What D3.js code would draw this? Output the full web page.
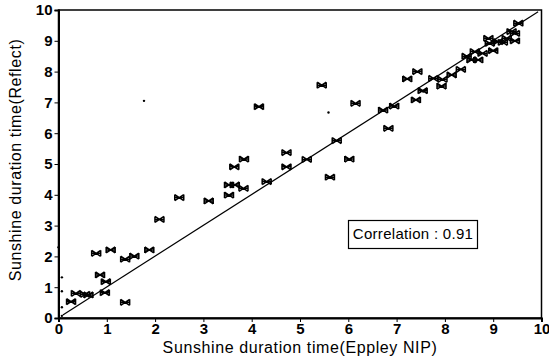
<!DOCTYPE html>
<html>
<head>
<meta charset="utf-8">
<script src="https://cdn.jsdelivr.net/npm/d3@7"></script>
<style>
  body { margin: 0; background: #fff; }
  text { font-family: "Liberation Sans", Arial, sans-serif; }
</style>
</head>
<body>
<svg id="chart" width="549" height="362"></svg>
<script>
// sunshine hours, Eppley NIP (x) vs reflect sensor (y)
var nipHours = [0.36, 0.55, 0.62, 0.26, 0.78, 1.08, 1.38, 1.57, 1.88, 2.09, 2.50, 3.11, 3.53, 3.53, 3.65,
  3.83, 4.31, 0.86, 0.98, 0.96, 1.38, 4.15, 3.84, 3.64, 4.72, 4.72, 5.45, 6.15, 6.72, 6.95, 6.83, 5.76,
  5.14, 6.02, 5.62, 7.22, 7.43, 7.40, 7.54, 7.76, 7.93, 7.95, 8.14, 8.33, 8.45, 8.55, 8.62, 8.78, 8.69,
  9.00, 8.90, 8.93, 9.10, 9.28, 9.38, 9.45, 9.52, 9.45, 9.20];
var reflectHours = [0.80, 0.77, 0.75, 0.53, 2.10, 2.21, 1.91, 2.01, 2.21, 3.20, 3.91, 3.80, 3.99, 4.32, 4.32,
  4.21, 4.43, 1.40, 1.18, 0.82, 0.51, 6.86, 5.16, 4.91, 5.37, 4.91, 7.56, 6.97, 6.75, 6.88, 6.16, 5.76,
  5.15, 5.16, 4.57, 7.76, 8.00, 7.08, 7.38, 7.78, 7.53, 7.75, 7.89, 8.07, 8.50, 8.38, 8.65, 8.59, 8.38,
  8.68, 9.08, 8.92, 8.97, 9.08, 9.30, 9.24, 9.57, 9.00, 8.95];

// faint single readings
var dotNip = [0.07, 0.07, 0.07, 0.07, 0.0, 5.59, 1.77, 7.55];
var dotReflect = [1.32, 0.87, 0.35, 0.07, 2.3, 6.67, 7.05, 7.35];

var tickValues = [0, 1, 2, 3, 4, 5, 6, 7, 8, 9, 10];
var correlation = 0.91;

var svg = d3.select("#chart");
var plotLeft = 58.5, plotRight = 541.5, plotTop = 10, plotBottom = 318;

var x = d3.scaleLinear().domain([0, 10]).range([plotLeft, plotRight]);
var y = d3.scaleLinear().domain([0, 10]).range([plotBottom, plotTop]);

// frame
svg.append("rect")
  .attr("x", plotLeft).attr("y", plotTop)
  .attr("width", plotRight - plotLeft).attr("height", plotBottom - plotTop)
  .attr("fill", "none").attr("stroke", "#000").attr("stroke-width", 1.5);

var xAxis = svg.append("g")
  .attr("transform", "translate(0," + plotBottom + ")")
  .call(d3.axisBottom(x).tickValues(tickValues).tickFormat(d3.format("d")).tickSize(4).tickPadding(1));
var yAxis = svg.append("g")
  .attr("transform", "translate(" + plotLeft + ",0)")
  .call(d3.axisLeft(y).tickValues(tickValues).tickFormat(d3.format("d")).tickSize(4).tickPadding(2));

[xAxis, yAxis].forEach(function(a) {
  a.select(".domain").attr("stroke-width", 2);
  a.selectAll("text").attr("font-size", 15).attr("font-weight", "bold").attr("fill", "#000")
    .attr("font-family", "Liberation Sans, Arial, sans-serif");
});

// 1:1 line
svg.append("line")
  .attr("x1", x(0.09)).attr("y1", y(0.1))
  .attr("x2", x(9.93)).attr("y2", y(9.94))
  .attr("stroke", "#000").attr("stroke-width", 1.2);

// asterisk-ish markers
function marker(px, py) {
  var w = 4.5, h = 3;
  return "M" + (px - w) + "," + (py - h) + "L" + (px + w) + "," + (py + h) +
    "M" + (px - w) + "," + (py + h) + "L" + (px + w) + "," + (py - h) +
    "M" + (px - w) + "," + py + "L" + (px + w) + "," + py +
    "M" + (px - w) + "," + (py - h) + "L" + (px - w) + "," + (py + h) +
    "M" + (px + w) + "," + (py - h) + "L" + (px + w) + "," + (py + h);
}

svg.append("g").selectAll("path")
  .data(d3.range(nipHours.length))
  .join("path")
  .attr("d", function(i) { return marker(x(nipHours[i]), y(reflectHours[i])); })
  .attr("fill", "none").attr("stroke", "#000").attr("stroke-width", 1.5);

svg.append("g").selectAll("circle")
  .data(d3.range(dotNip.length))
  .join("circle")
  .attr("cx", function(i) { return x(dotNip[i]); })
  .attr("cy", function(i) { return y(dotReflect[i]); })
  .attr("r", 1.2).attr("fill", "#000");

// correlation box
svg.append("rect")
  .attr("x", 348.5).attr("y", 220.5).attr("width", 129).attr("height", 28)
  .attr("fill", "#fff").attr("stroke", "#000").attr("stroke-width", 1.2);
svg.append("text")
  .attr("x", 413).attr("y", 239).attr("text-anchor", "middle")
  .attr("font-size", 15).attr("letter-spacing", 0.3)
  .text("Correlation : " + correlation);

// axis titles
svg.append("text")
  .attr("x", (plotLeft + plotRight) / 2).attr("y", 353).attr("text-anchor", "middle")
  .attr("font-size", 16).attr("letter-spacing", 0.6)
  .text("Sunshine duration time(Eppley NIP)");
svg.append("text")
  .attr("transform", "translate(21," + 160 + ") rotate(-90)")
  .attr("text-anchor", "middle")
  .attr("font-size", 16).attr("letter-spacing", 0.6)
  .text("Sunshine duration time(Reflect)");
</script>
</body>
</html>
